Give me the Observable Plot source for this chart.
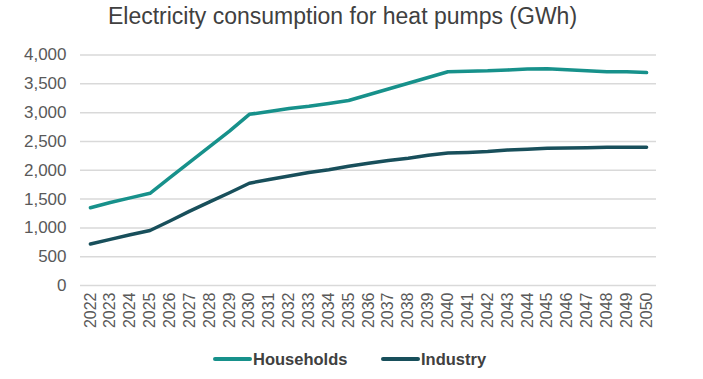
<!DOCTYPE html>
<html>
<head>
<meta charset="utf-8">
<script src="https://cdn.jsdelivr.net/npm/d3@7"></script>
<script src="https://cdn.jsdelivr.net/npm/@observablehq/plot@0.6"></script>
<style>
  html, body { margin: 0; padding: 0; background: #fff; }
  #wrap { position: relative; width: 703px; height: 379px; font-family: "Liberation Sans", Arial, sans-serif; }
  #title { position: absolute; left: 0; top: 5px; width: 685px; text-align: center; font-size: 23px; line-height: 22px; color: #404040; white-space: nowrap; }
  #legend { position: absolute; left: 0; top: 349px; width: 703px; height: 20px; }
  .item { position: absolute; top: 0; display: flex; align-items: center; font-weight: bold; font-size: 16.5px; line-height: 20px; color: #404040; }
  .sw { width: 39px; height: 4px; border-radius: 2px; margin-right: 1px; }
  #chart { position: absolute; left: 0; top: 0; }
</style>
</head>
<body>
<div id="wrap">
  <div id="chart"></div>
  <div id="title">Electricity consumption for heat pumps (GWh)</div>
  <div id="legend"></div>
</div>
<script>
const years = ["2022","2023","2024","2025","2026","2027","2028","2029","2030","2031","2032","2033","2034","2035","2036","2037","2038","2039","2040","2041","2042","2043","2044","2045","2046","2047","2048","2049","2050"];
const households = [1350,1440,1520,1600,1870,2140,2410,2680,2970,3020,3070,3110,3160,3210,3310,3410,3510,3610,3710,3720,3725,3740,3755,3760,3745,3725,3710,3710,3695];
const industry = [720,800,880,955,1120,1290,1450,1610,1775,1840,1900,1960,2010,2070,2120,2170,2210,2260,2300,2310,2325,2350,2365,2380,2385,2390,2400,2400,2400];
const seriesNames = ["Households","Industry"];
const seriesColors = ["#17918b","#184f5b"];
const yTicks = [0,500,1000,1500,2000,2500,3000,3500,4000];

const rows = [];
years.forEach((y, i) => {
  rows.push({year: y, value: households[i], series: seriesNames[0]});
  rows.push({year: y, value: industry[i], series: seriesNames[1]});
});

const chart = Plot.plot({
  width: 703,
  height: 379,
  marginTop: 54.5,
  marginBottom: 94,
  marginLeft: 80,
  marginRight: 47,
  style: {fontFamily: '"Liberation Sans", Arial, sans-serif', fontSize: "17px", color: "#595959", background: "transparent"},
  x: {type: "point", domain: years, padding: 0.5, round: false, label: null},
  y: {domain: [0, 4000], label: null},
  color: {domain: seriesNames, range: seriesColors},
  marks: [
    Plot.gridY(yTicks, {stroke: "#d9d9d9", strokeOpacity: 1, strokeWidth: 1.5}),
    Plot.axisY({ticks: yTicks, tickSize: 0, tickPadding: 14, tickFormat: d3.format(","), fill: "#595959", fontSize: 17, label: null}),
    Plot.axisX({tickSize: 0, tickPadding: 7, tickRotate: -90, fill: "#595959", fontSize: 16, label: null}),
    Plot.line(rows, {x: "year", y: "value", z: "series", stroke: "series", strokeWidth: 3.5, strokeLinecap: "round", strokeLinejoin: "round"})
  ]
});
document.getElementById("chart").appendChild(chart);

const legend = document.getElementById("legend");
const lefts = [213, 381];
seriesNames.forEach((name, i) => {
  const item = document.createElement("div");
  item.className = "item";
  item.style.left = lefts[i] + "px";
  const sw = document.createElement("div");
  sw.className = "sw";
  sw.style.background = seriesColors[i];
  const t = document.createElement("span");
  t.textContent = name;
  item.appendChild(sw);
  item.appendChild(t);
  legend.appendChild(item);
});
</script>
</body>
</html>
